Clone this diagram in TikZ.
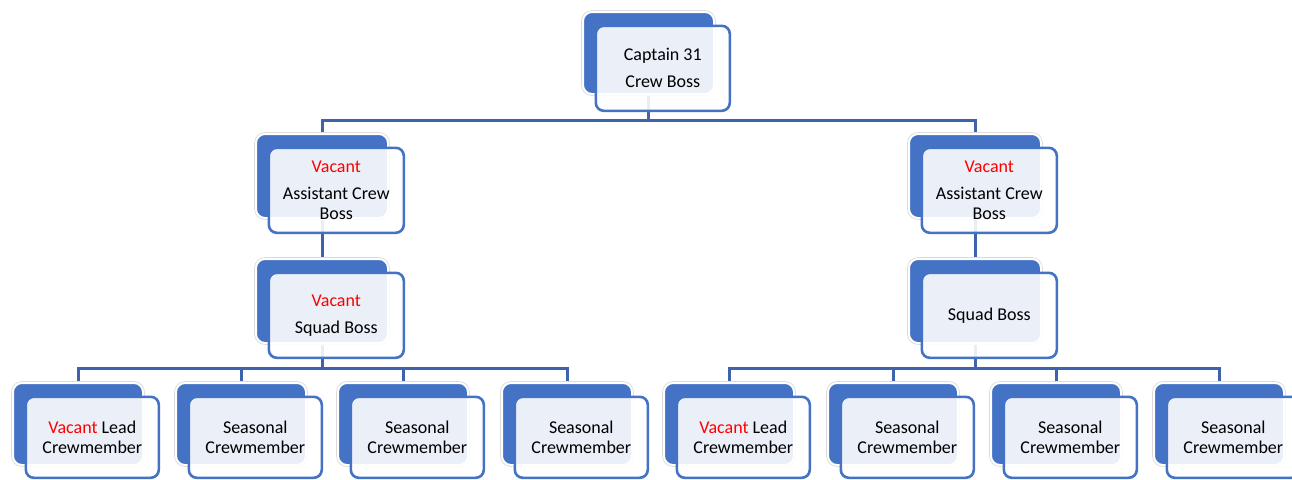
\documentclass[tikz,border=0pt]{standalone}
\usepackage{fontspec}
\setmainfont{Carlito}
\definecolor{obl}{RGB}{68,114,196}
\definecolor{cln}{RGB}{62,98,172}
\definecolor{vacred}{RGB}{255,0,0}
\newcommand{\vac}{\textcolor{vacred}{Vacant}}
\pgfdeclarelayer{bg}
\pgfsetlayers{bg,main}
\tikzset{
  backbox/.style={rectangle, rounded corners=9pt, fill=obl, draw=white, line width=2pt,
    preaction={draw=black!14, line width=3.6pt}, inner sep=0pt, anchor=north west},
  frontbox/.style={rectangle, rounded corners=8pt, fill=white, fill opacity=0.89, text opacity=1,
    draw=obl, draw opacity=1, line width=2.6pt, inner sep=0pt, anchor=north west, align=center,
    font=\fontsize{18}{19.5}\selectfont},
  conn/.style={draw=cln, line width=3pt}
}
\newcommand{\orgbox}[8]{%
  \node[backbox, minimum width=#4pt, minimum height=#5pt] (#1B) at (#2,#3) {};
  \node[frontbox, minimum width=#6pt, minimum height=#7pt] (#1F) at ([shift={(12.5,13.5)}]#2,#3) {#8};
}
\begin{document}
\begin{tikzpicture}[x=1pt,y=-1pt]
\useasboundingbox (0,0) rectangle (1292,479);
\begin{pgfonlayer}{bg}
\fill[white] (0,0) rectangle (1292,479);
\end{pgfonlayer}
% top
\orgbox{cap}{582}{11}{131}{82}{134}{85}{Captain 31\\[7.5pt]Crew Boss}
% assistants
\orgbox{al}{255}{133}{132}{84}{135}{85}{\vac\\[7.5pt]Assistant Crew\\Boss}
\orgbox{ar}{908}{133}{132}{84}{135}{85}{\vac\\[7.5pt]Assistant Crew\\Boss}
% squad bosses
\orgbox{sl}{255}{258}{132}{84}{135}{85}{\vac\\[7.5pt]Squad Boss}
\orgbox{sr}{908}{258}{132}{84}{135}{85}{Squad Boss}
% crew members
\orgbox{bla}{12}{382}{130}{82}{133}{81}{\vac{} Lead\\Crewmember}
\orgbox{blb}{175}{382}{130}{82}{133}{81}{Seasonal\\Crewmember}
\orgbox{blc}{337}{382}{130}{82}{133}{81}{Seasonal\\Crewmember}
\orgbox{bld}{501}{382}{130}{82}{133}{81}{Seasonal\\Crewmember}
\orgbox{bra}{663}{382}{130}{82}{133}{81}{\vac{} Lead\\Crewmember}
\orgbox{brb}{827}{382}{130}{82}{133}{81}{Seasonal\\Crewmember}
\orgbox{brc}{990}{382}{130}{82}{133}{81}{Seasonal\\Crewmember}
\orgbox{brd}{1153}{382}{130}{82}{133}{81}{Seasonal\\Crewmember}
\begin{pgfonlayer}{bg}
\draw[conn] (capB.south) -- (capB.south |- 0,120) -| (alB.north);
\draw[conn] (capB.south) -- (capB.south |- 0,120) -| (arB.north);
\draw[conn] (alB.south) -- (slB.north);
\draw[conn] (arB.south) -- (srB.north);
\foreach \c in {bla,blb,blc,bld}
  \draw[conn] (slB.south) -- (slB.south |- 0,368) -| (\c B.north);
\foreach \c in {bra,brb,brc,brd}
  \draw[conn] (srB.south) -- (srB.south |- 0,368) -| (\c B.north);
\end{pgfonlayer}
\end{tikzpicture}
\end{document}
